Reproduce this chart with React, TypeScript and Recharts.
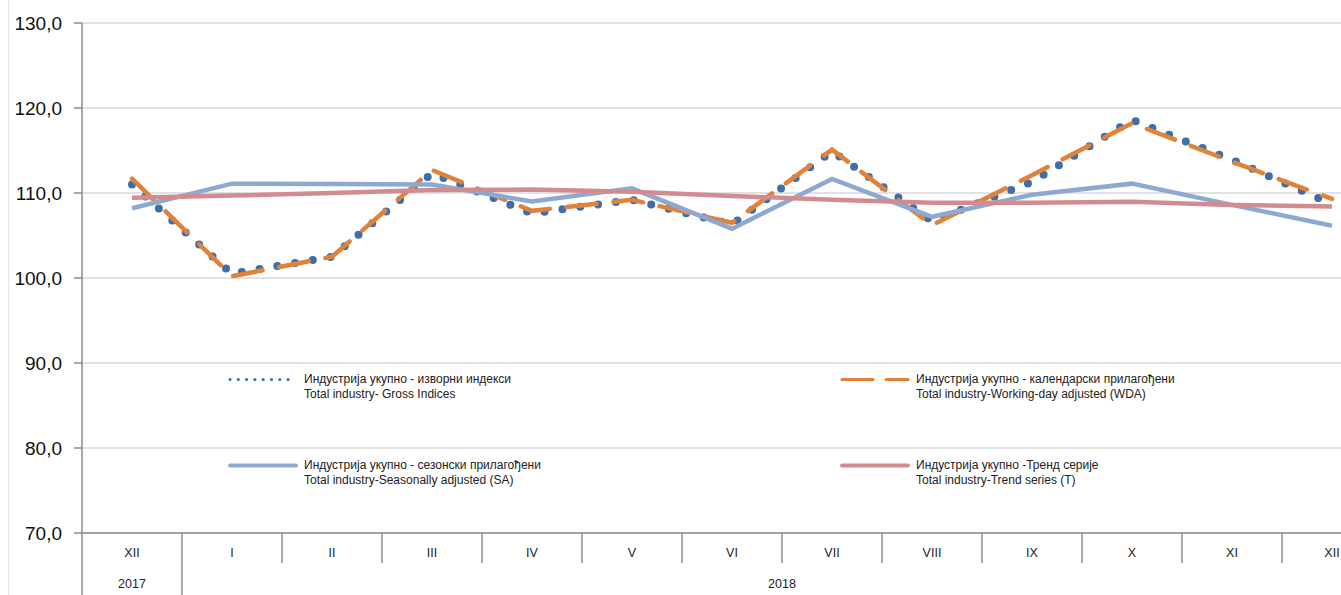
import React from "react";
import { ComposedChart, Line, XAxis, YAxis, CartesianGrid } from "recharts";

// months on the category axis, year of each month
const months = ["XII", "I", "II", "III", "IV", "V", "VI", "VII", "VIII", "IX", "X", "XI", "XII"];
const years = ["2017", "2018", "2018", "2018", "2018", "2018", "2018", "2018", "2018", "2018", "2018", "2018", "2018"];

// index values
const gross = [111.0, 100.5, 102.5, 112.3, 107.6, 109.2, 106.3, 114.9, 106.7, 111.3, 118.6, 113.9, 108.7];
const wda = [111.7, 100.2, 102.5, 112.7, 107.9, 109.2, 106.5, 115.1, 106.2, 112.1, 118.2, 113.7, 109.3];
const sa = [108.2, 111.1, 111.05, 111.0, 109.0, 110.55, 105.8, 111.65, 107.2, 109.8, 111.1, 108.6, 106.15];
const trend = [109.45, 109.7, 110.0, 110.35, 110.4, 110.15, 109.65, 109.2, 108.85, 108.85, 108.98, 108.6, 108.4];

const yTicks = [70, 80, 90, 100, 110, 120, 130];

const data = months.map((m, i) => ({
  key: `${m}-${years[i]}`,
  gross: gross[i],
  wda: wda[i],
  sa: sa[i],
  trend: trend[i],
}));

const CHART_W = 1400;
const CHART_H = 595;
const Y_AXIS_W = 82;
const PLOT_W = 1300;
const BAND = PLOT_W / months.length;
const AXIS_GREY = "#8c8c8c";
const FONT = "'Liberation Sans', Arial, sans-serif";

const legendItems = [
  {
    sr: "Индустрија укупно - изворни индекси",
    en: "Total industry- Gross Indices",
    color: "#3f6fa8",
    dash: "0 8.3",
    width: 3.2,
    left: 228,
    top: 372,
  },
  {
    sr: "Индустрија укупно - календарски прилагођени",
    en: "Total industry-Working-day adjusted (WDA)",
    color: "#e0823a",
    dash: "31 13",
    width: 3.2,
    left: 840,
    top: 372,
  },
  {
    sr: "Индустрија укупно - сезонски прилагођени",
    en: "Total industry-Seasonally adjusted (SA)",
    color: "#8ea9d1",
    dash: undefined,
    width: 4,
    left: 228,
    top: 458,
  },
  {
    sr: "Индустрија укупно -Тренд серије",
    en: "Total industry-Trend series (T)",
    color: "#d28b8e",
    dash: undefined,
    width: 4,
    left: 840,
    top: 458,
  },
];

function MonthTick(props: any) {
  const { x, y, index } = props;
  const left = x - BAND / 2;
  const firstOfYear = index === 0 || years[index] !== years[index - 1];
  const count = years.filter((yr) => yr === years[index]).length;
  return (
    <g>
      <line
        x1={left}
        x2={left}
        y1={y}
        y2={firstOfYear ? y + 62 : y + 30}
        stroke={AXIS_GREY}
        strokeWidth={1.5}
      />
      <text x={x} y={y + 24} textAnchor="middle" fontSize={12.5} fill="#222" fontFamily={FONT}>
        {months[index]}
      </text>
      {firstOfYear && (
        <text
          x={left + (count * BAND) / 2}
          y={y + 55}
          textAnchor="middle"
          fontSize={12.5}
          fill="#222"
          fontFamily={FONT}
        >
          {years[index]}
        </text>
      )}
    </g>
  );
}

export default function App() {
  return (
    <div
      style={{
        position: "absolute",
        left: 0,
        top: 0,
        width: 1341,
        height: 595,
        overflow: "hidden",
        background: "#fff",
      }}
    >
      <div style={{ position: "absolute", left: 8, top: 0, width: 1, height: 595, background: "#e3e3e3" }} />
      <ComposedChart
        width={CHART_W}
        height={CHART_H}
        data={data}
        margin={{ top: 23, right: CHART_W - Y_AXIS_W - PLOT_W, bottom: 0, left: 0 }}
      >
        <CartesianGrid vertical={false} stroke="#d9d9d9" strokeWidth={1.3} />
        <XAxis
          dataKey="key"
          scale="band"
          interval={0}
          height={62}
          tickLine={false}
          tickSize={0}
          tickMargin={0}
          axisLine={{ stroke: AXIS_GREY, strokeWidth: 1.5 }}
          tick={<MonthTick />}
        />
        <YAxis
          width={Y_AXIS_W}
          domain={[70, 130]}
          ticks={yTicks}
          interval={0}
          tickSize={8}
          tickMargin={12}
          axisLine={{ stroke: AXIS_GREY, strokeWidth: 1.5 }}
          tickLine={{ stroke: AXIS_GREY, strokeWidth: 1.5 }}
          tick={{ fontSize: 19, fill: "#111", fontFamily: FONT }}
          tickFormatter={(v: number) => v.toFixed(1).replace(".", ",")}
        />
        <Line
          dataKey="gross"
          stroke="#3f6fa8"
          strokeWidth={8}
          strokeDasharray="0 18"
          strokeLinecap="round"
          dot={false}
          isAnimationActive={false}
        />
        <Line
          dataKey="wda"
          stroke="#e0823a"
          strokeWidth={4.5}
          strokeDasharray="30 17"
          strokeLinecap="round"
          dot={false}
          isAnimationActive={false}
        />
        <Line dataKey="sa" stroke="#8ea9d1" strokeWidth={4.5} dot={false} isAnimationActive={false} />
        <Line dataKey="trend" stroke="#d28b8e" strokeWidth={4.5} dot={false} isAnimationActive={false} />
      </ComposedChart>
      {legendItems.map((item) => (
        <div
          key={item.en}
          style={{
            position: "absolute",
            left: item.left,
            top: item.top,
            display: "flex",
            alignItems: "flex-start",
            fontFamily: FONT,
            fontSize: 12,
            lineHeight: "15px",
            color: "#222",
            whiteSpace: "nowrap",
          }}
        >
          <svg width={72} height={15} style={{ flexShrink: 0 }}>
            <line
              x1={2}
              x2={68}
              y1={7.5}
              y2={7.5}
              stroke={item.color}
              strokeWidth={item.width}
              strokeDasharray={item.dash}
              strokeLinecap="round"
            />
          </svg>
          <div style={{ marginLeft: 4 }}>
            <div>{item.sr}</div>
            <div>{item.en}</div>
          </div>
        </div>
      ))}
    </div>
  );
}
